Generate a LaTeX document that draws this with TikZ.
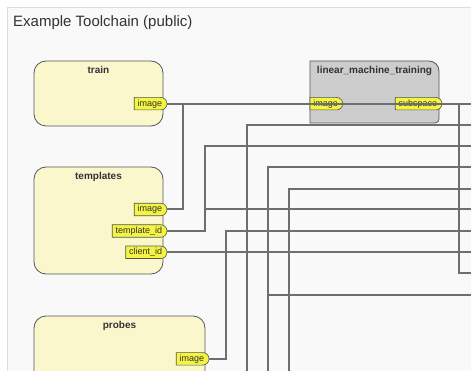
\documentclass[tikz,border=0pt]{standalone}
\usepackage{fontspec}
\setmainfont{Liberation Sans}
\usetikzlibrary{shapes.misc}
\definecolor{panelfill}{HTML}{F9F9F9}
\definecolor{panelline}{HTML}{DDDDDD}
\definecolor{boxfill}{HTML}{FAF7CD}
\definecolor{boxline}{HTML}{555555}
\definecolor{portfill}{HTML}{F4F442}
\definecolor{wirecol}{HTML}{6E6E6E}
\definecolor{lmtfill}{HTML}{CDCDCD}
\definecolor{titlecol}{HTML}{333333}
\begin{document}
\begin{tikzpicture}[x=1pt,y=-1pt,
 blockbox/.style={draw=boxline, fill=boxfill, line width=0.8pt, rounded corners=12pt, inner sep=0pt, outer sep=0pt},
 blocktitle/.style={font=\fontsize{10}{12}\selectfont\bfseries, text=titlecol, inner sep=0pt, anchor=base},
 port/.style={draw=boxline, fill=portfill, line width=0.6pt, rounded rectangle, rounded rectangle left arc=none, minimum height=12.5pt, inner xsep=3.3pt, inner ysep=0pt, font=\fontsize{9}{10}\selectfont, text=titlecol, outer sep=0pt},
 wire/.style={draw=wirecol, line width=2pt},
]
\useasboundingbox (0,0) rectangle (471,371);
\begin{scope}
\clip (0,0) rectangle (471,371);
\fill[white] (0,0) rectangle (471,371);
\draw[fill=panelfill, draw=panelline, line width=0.8pt] (7,7) rectangle (490,390);
\node[anchor=base west, font=\fontsize{15}{18}\selectfont, text=titlecol, inner sep=0pt] (title) at (13,27) {Example Toolchain (public)};

% blocks
\node[blockbox, minimum width=129pt, minimum height=65pt] (train) at (98.5,93.5) {};
\node[blocktitle] (trainT) at (98.5,74) {train};
\node[blockbox, minimum width=129pt, minimum height=107pt] (templates) at (98.5,220.5) {};
\node[blocktitle] (templatesT) at (98.5,180) {templates};
\node[blockbox, minimum width=171pt, minimum height=104pt] (probes) at (119.5,368) {};
\node[blocktitle] (probesT) at (119.5,328) {probes};

% linear machine training block
\fill[lmtfill] (310,123) -- (310,61) -- (429,61) .. controls (434.5,61) and (439,65.5) .. (439,71) -- (439,119) .. controls (439,121.2) and (437.2,123) .. (435,123) -- cycle;
\draw[boxline, line width=0.8pt] (310,123) -- (310,61) -- (429,61) .. controls (434.5,61) and (439,65.5) .. (439,71) -- (439,119) .. controls (439,121.2) and (437.2,123) .. (435,123) -- cycle;
\node[blocktitle] (lmtT) at (374.5,73.5) {linear\_machine\_training};

% ports
\node[port, anchor=east] (trImg) at (167,103.7) {image};
\node[port, anchor=east] (tpImg) at (167,209.5) {image};
\node[port, anchor=east] (tpId) at (167,231) {template\_id};
\node[port, anchor=east] (tpCl) at (167,252.3) {client\_id};
\node[port, anchor=east] (prImg) at (209,358.8) {image};
\node[port, anchor=west] (lmImg) at (310,103.7) {image};
\node[port, anchor=east] (lmSub) at (442,103.7) {subspace};

% coordinates
\coordinate (rE) at (475,0);
\coordinate (j1) at (183,103.7);
\coordinate (j2) at (205,146);
\coordinate (j3) at (205,209);
\coordinate (j4) at (226,231);
\coordinate (b1) at (247,380);
\coordinate (j5) at (247,125);
\coordinate (b2) at (268,380);
\coordinate (j6) at (268,167);
\coordinate (j7) at (268,295);
\coordinate (b3) at (289,380);
\coordinate (j8) at (289,189);
\coordinate (j9) at (459,103.7);
\coordinate (j10) at (459,273);

% wires
\draw[wire] (trImg.east) -- (trImg.east -| rE);
\draw[wire] (tpImg.east) -| (j1);
\draw[wire] (tpId.east) -| (j2) -- (j2 -| rE);
\draw[wire] (j3) -- (j3 -| rE);
\draw[wire] (tpCl.east) -- (tpCl.east -| rE);
\draw[wire] (prImg.east) -| (j4) -- (j4 -| rE);
\draw[wire] (b1) -- (j5) -- (j5 -| rE);
\draw[wire] (b2) -- (j6) -- (j6 -| rE);
\draw[wire] (j7) -- (j7 -| rE);
\draw[wire] (b3) -- (j8) -- (j8 -| rE);
\draw[wire] (j9) -- (j10) -- (j10 -| rE);
\end{scope}
\end{tikzpicture}
\end{document}
